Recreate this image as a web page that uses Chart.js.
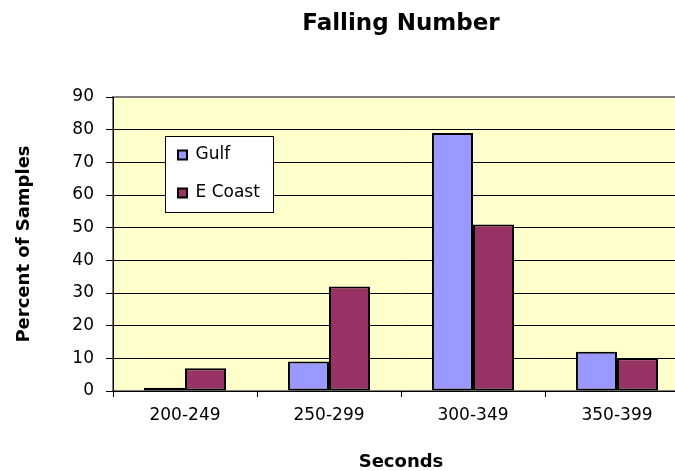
<!DOCTYPE html>
<html>
<head>
<meta charset="utf-8">
<script src="https://cdn.jsdelivr.net/npm/chart.js@4.4.1/dist/chart.umd.min.js"></script>
<style>
  html, body { margin: 0; padding: 0; background: #fff; overflow: hidden; }
  #wrap { width: 700px; height: 471px; position: relative; }
</style>
</head>
<body>
<div id="wrap"><canvas id="chart"></canvas></div>
<script>
// data
var categories = ["200-249", "250-299", "300-349", "350-399"];
var gulf = [1, 9, 79, 12];
var eastCoast = [7, 32, 51, 10];
var yMin = 0;
var yMax = 90;
var yStep = 10;

Chart.defaults.font.family = "'DejaVu Sans', sans-serif";
Chart.defaults.color = "#000";

// yellow plot area + legend with its white box
var plotBox = {
  id: "plotBox",
  beforeDraw: function (chart) {
    var a = chart.chartArea;
    var ctx = chart.ctx;
    ctx.save();
    ctx.fillStyle = "#ffffcc";
    ctx.fillRect(a.left, a.top, a.right - a.left, a.bottom - a.top);
    ctx.strokeStyle = "#808080";
    ctx.lineWidth = 2;
    ctx.strokeRect(a.left, a.top, a.right - a.left, a.bottom - a.top);
    ctx.restore();
  },
  afterLayout: function (chart) {
    var lg = chart.legend;
    var a = chart.chartArea;
    var w = lg.width, h = lg.height;
    lg.left = a.left + 44;
    lg.top = a.top + 28.5;
    lg.right = lg.left + w;
    lg.bottom = lg.top + h;
  },
  beforeDatasetsDraw: function (chart) {
    var a = chart.chartArea;
    var ctx = chart.ctx;
    ctx.save();
    ctx.fillStyle = "#fff";
    ctx.fillRect(a.left + 52, a.top + 39, 108, 76);
    ctx.strokeStyle = "#000";
    ctx.lineWidth = 1;
    ctx.strokeRect(a.left + 52.5, a.top + 39.5, 108, 76);
    ctx.restore();
    // draw legend again so it sits over the grid lines
    chart.legend.draw();
  }
};

var chart = new Chart(document.getElementById("chart").getContext("2d"), {
  type: "bar",
  data: {
    labels: categories,
    datasets: [
      {
        label: "Gulf",
        data: gulf,
        backgroundColor: "#9999ff",
        borderColor: "#000",
        borderWidth: 2,
        borderSkipped: false
      },
      {
        label: "E Coast",
        data: eastCoast,
        backgroundColor: "#993366",
        borderColor: "#000",
        borderWidth: 2,
        borderSkipped: false
      }
    ]
  },
  options: {
    responsive: true,
    maintainAspectRatio: false,
    animation: false,
    categoryPercentage: 0.57,
    barPercentage: 1,
    layout: { padding: { top: 0, right: 11, bottom: 0, left: 0 } },
    plugins: {
      title: {
        display: true,
        text: "Falling Number",
        fullSize: false,
        color: "#000",
        font: { size: 23, weight: "bold" },
        padding: { top: 10, bottom: 59.4 }
      },
      legend: {
        position: "chartArea",
        align: "start",
        labels: {
          boxWidth: 9,
          boxHeight: 9,
          padding: 21,
          color: "#000",
          font: { size: 17 }
        }
      },
      tooltip: { enabled: false }
    },
    scales: {
      x: {
        grid: {
          display: true,
          drawOnChartArea: false,
          drawTicks: true,
          tickLength: 6,
          color: "#000",
          offset: true
        },
        border: { color: "#000", width: 1 },
        ticks: { color: "#000", font: { size: 17 }, padding: 8 },
        title: {
          display: true,
          text: "Seconds",
          color: "#000",
          font: { size: 18, weight: "bold", lineHeight: 1 },
          padding: 0
        },
        afterFit: function (s) { s.height = 80; }
      },
      y: {
        min: yMin,
        max: yMax,
        ticks: { stepSize: yStep, color: "#000", font: { size: 17 }, padding: 12 },
        grid: {
          color: function (c) {
            return c.tick && c.tick.value === yMax ? "#808080" : "#000";
          },
          tickColor: "#000",
          tickLength: 7
        },
        border: { color: "#000", width: 1 },
        title: {
          display: true,
          text: "Percent of Samples",
          color: "#000",
          font: { size: 18, weight: "bold" },
          padding: { top: 14, bottom: 0 }
        },
        afterFit: function (s) { s.width = 113; }
      }
    }
  },
  plugins: [plotBox]
});
</script>
</body>
</html>
